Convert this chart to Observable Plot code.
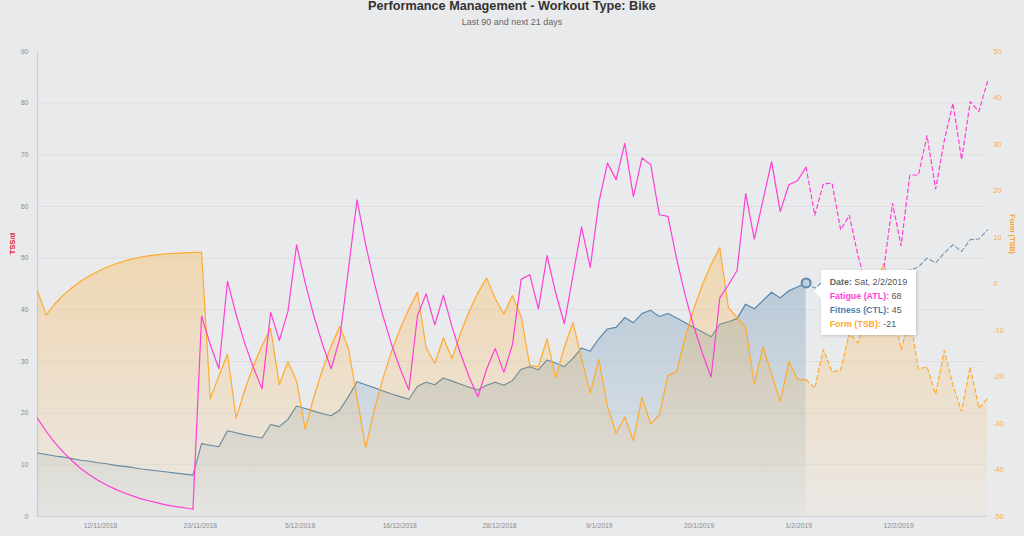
<!DOCTYPE html>
<html>
<head>
<meta charset="utf-8">
<script src="https://cdn.jsdelivr.net/npm/d3@7"></script>
<script src="https://cdn.jsdelivr.net/npm/@observablehq/plot@0.6"></script>
<style>
  html, body { margin:0; padding:0; background:#e9eaec; width:1024px; height:536px; overflow:hidden;
    font-family:"Liberation Sans", Arial, Helvetica, sans-serif; }
  #wrap { position:relative; width:1024px; height:536px; }
  #head { position:relative; width:1024px; height:30px; }
  #title { position:absolute; top:0; left:0; width:1024px; text-align:center; font-weight:bold;
    font-size:12.7px; line-height:13px; color:#333; }
  #subtitle { position:absolute; top:17.4px; left:0; width:1024px; text-align:center;
    font-size:9px; line-height:10px; color:#666; }
  #chart svg { display:block; }
  #tip { position:absolute; background:#fff; box-shadow:1px 1px 3px rgba(0,0,0,0.18);
    font-size:8.9px; line-height:14px; color:#555; padding:5px 9px 4px 9px; white-space:nowrap; }
  #tip b { font-weight:bold; }
  #tip .arrow { position:absolute; left:-7px; top:14px; width:0; height:0;
    border-top:7px solid transparent; border-bottom:7px solid transparent; border-right:7px solid #fff; }
</style>
</head>
<body>
<div id="wrap">
  <div id="head">
    <div id="title">Performance Management - Workout Type: Bike</div>
    <div id="subtitle">Last 90 and next 21 days</div>
  </div>
  <div id="chart"></div>
</div>
<script>
// ---- data ----
const startDate = "2018-11-05";
const todayIndex = 89;

const atl = [19.0,16.5,14.3,12.4,10.8,9.3,8.1,7.0,6.1,5.3,
  4.6,4.0,3.4,3.0,2.6,2.2,1.9,1.7,1.4,38.8,
  33.3,28.6,45.5,39.1,33.5,28.8,24.7,39.5,34.1,39.7,
  52.6,45.2,38.8,33.3,28.6,34.4,47.8,61.3,52.6,45.2,
  38.8,33.3,28.6,24.5,38.9,43.1,37.1,42.8,36.7,31.4,
  26.9,23.2,28.5,32.5,27.9,33.3,45.9,46.8,40.2,50.5,
  43.3,37.3,46.6,56.0,48.2,60.8,68.4,65.2,72.2,61.9,
  69.4,68.1,58.4,58.1,49.9,42.8,36.7,31.5,27.0,42.3,
  44.8,47.6,62.5,53.7,61.2,68.7,59.0,64.2,65.0,67.6,
  58.3,64.4,64.5,55.5,58.3,50.5,44.5,39.5,48.0,60.6,
  52.4,66.1,66.1,73.7,63.4,72.8,80.0,69.1,80.3,78.4,
  84.2];

const ctl = [12.3,12.0,11.7,11.5,11.2,10.9,10.7,10.4,10.2,9.9,
  9.7,9.5,9.2,9.0,8.8,8.6,8.4,8.2,8.0,14.1,
  13.8,13.5,16.6,16.2,15.8,15.5,15.2,17.8,17.4,18.8,
  21.4,20.9,20.4,19.9,19.5,20.6,23.2,26.1,25.5,24.9,
  24.3,23.7,23.2,22.7,25.2,26.0,25.5,26.8,26.2,25.6,
  25.0,24.5,25.4,26.0,25.4,26.3,28.5,29.0,28.4,30.3,
  29.7,29.0,30.6,32.6,32.0,34.4,36.3,36.6,38.5,37.5,
  39.3,39.9,38.7,39.3,38.4,37.5,36.6,35.7,34.8,37.2,
  37.7,38.3,41.1,40.2,41.8,43.4,42.3,43.7,44.4,45.2,
  44.2,45.5,46.0,44.9,45.6,44.6,43.7,42.9,44.2,46.4,
  45.4,47.7,48.3,50.0,49.1,51.0,52.6,51.3,53.6,53.7,
  55.5];

const tsb = [-1.5,-6.7,-4.3,-2.4,-0.8,0.6,1.7,2.7,3.6,4.3,
  4.9,5.4,5.8,6.1,6.3,6.5,6.6,6.7,6.8,6.8,
  -24.7,-19.8,-15.1,-28.9,-22.8,-17.6,-13.3,-9.6,-21.7,-16.7,
  -20.9,-31.2,-24.3,-18.4,-13.4,-9.1,-13.8,-24.5,-35.2,-27.1,
  -20.3,-14.5,-9.6,-5.4,-1.8,-13.7,-17.1,-11.6,-16.0,-10.5,
  -5.8,-1.9,1.3,-3.1,-6.5,-2.5,-7.0,-17.5,-17.8,-11.8,
  -20.2,-13.6,-8.3,-16.0,-23.4,-16.2,-26.4,-32.1,-28.6,-33.7,
  -24.4,-30.1,-28.2,-19.7,-18.8,-11.5,-5.3,-0.1,4.2,7.8,
  -5.1,-7.2,-9.3,-21.5,-13.5,-19.3,-25.3,-16.7,-20.5,-20.6,
  -22.4,-14.1,-18.9,-18.5,-10.6,-12.7,-5.9,-0.8,4.5,-3.8,
  -14.2,-7.0,-18.3,-17.8,-23.7,-14.3,-21.8,-27.4,-17.8,-26.7,
  -24.7];

const leftTicks = [0,10,20,30,40,50,60,70,80,90];
const rightTicks = [-50,-40,-30,-20,-10,0,10,20,30,40,50];
const xTickDates = ["2018-11-12T07:12Z","2018-11-23T20:24Z","2018-12-05T09:36Z","2018-12-16T22:48Z",
  "2018-12-28T12:00Z","2019-01-09T01:12Z","2019-01-20T14:24Z","2019-02-01T03:36Z","2019-02-12T16:48Z"];
const xTickLabels = ["12/11/2018","23/11/2018","5/12/2018","16/12/2018","28/12/2018",
  "9/1/2019","20/1/2019","1/2/2019","12/2/2019"];

// ---- build ----
const leftMax = 90, rightMin = -50, rightMax = 50;
const toLeft = v => (v - rightMin) / (rightMax - rightMin) * leftMax;   // right-axis units -> left-axis units
const fromLeft = v => Math.round(v / leftMax * (rightMax - rightMin) + rightMin);

const start = new Date(startDate + "T00:00:00Z");
const rows = atl.map((a, i) => ({ i, date: d3.utcDay.offset(start, i), atl: a, ctl: ctl[i], tsb: tsb[i], tsbL: toLeft(tsb[i]) }));
const past = rows.filter(d => d.i <= todayIndex);
const future = rows.filter(d => d.i >= todayIndex);
const today = rows[todayIndex];

const xTicks = xTickDates.map(s => new Date(s));
const xLabelMap = new Map(xTicks.map((d, i) => [+d, xTickLabels[i]]));

const C_ATL = "#ff3fd4", C_CTL = "#4b7fa7", C_TSB = "#ffab2e";

const defs = () => {
  const ns = "http://www.w3.org/2000/svg";
  const g = document.createElementNS(ns, "defs");
  g.innerHTML = `
    <linearGradient id="gCTL" x1="0" y1="0" x2="0" y2="1">
      <stop offset="0" stop-color="rgb(74,127,168)" stop-opacity="0.30"/>
      <stop offset="1" stop-color="rgb(74,127,168)" stop-opacity="0.03"/>
    </linearGradient>
    <linearGradient id="gTSB" x1="0" y1="0" x2="0" y2="1">
      <stop offset="0" stop-color="rgb(255,170,40)" stop-opacity="0.30"/>
      <stop offset="1" stop-color="rgb(255,170,40)" stop-opacity="0.04"/>
    </linearGradient>`;
  return g;
};

const chart = Plot.plot({
  width: 1024,
  height: 506,
  marginTop: 21,
  marginBottom: 20,
  marginLeft: 37,
  marginRight: 37,
  style: { background: "transparent", fontFamily: "'Liberation Sans', Arial, sans-serif", color: "#8c8c8c" },
  x: { type: "utc", domain: [rows[0].date, rows[rows.length - 1].date], label: null },
  y: { domain: [0, leftMax], label: null },
  marks: [
    defs,
    Plot.ruleY(leftTicks.filter(t => t > 0 && t < leftMax), { stroke: "#dedfe2", strokeWidth: 1 }),
    Plot.ruleY([0], { stroke: "#cdced1", strokeWidth: 1 }),
    Plot.ruleX([rows[0].date], { y1: 0, y2: leftMax, stroke: "#cdced1", strokeWidth: 1.2 }),
    // Fitness (CTL)
    Plot.areaY(past, { x: "date", y1: 0, y2: "ctl", fill: "url(#gCTL)" }),
    Plot.lineY(past, { x: "date", y: "ctl", stroke: "#5686ac", strokeWidth: 1.1 }),
    Plot.lineY(future, { x: "date", y: "ctl", stroke: "#6f95b5", strokeWidth: 1.1, strokeDasharray: "4,3" }),
    // Form (TSB)
    Plot.areaY(rows, { x: "date", y1: 0, y2: "tsbL", fill: "url(#gTSB)" }),
    Plot.lineY(past, { x: "date", y: "tsbL", stroke: C_TSB, strokeWidth: 1.2 }),
    Plot.lineY(future, { x: "date", y: "tsbL", stroke: C_TSB, strokeWidth: 1.2, strokeDasharray: "4,3" }),
    // Fatigue (ATL)
    Plot.lineY(past, { x: "date", y: "atl", stroke: C_ATL, strokeWidth: 1.2 }),
    Plot.lineY(future, { x: "date", y: "atl", stroke: C_ATL, strokeWidth: 1.2, strokeDasharray: "4,3" }),
    // hover marker
    Plot.dot([today], { x: "date", y: "ctl", r: 4.5, fill: "#c3d0db", stroke: "#5f88aa", strokeWidth: 2 }),
    // axes
    Plot.axisY({ ticks: leftTicks, anchor: "left", tickSize: 0, tickPadding: 9, fontSize: 7, color: "#8c8c8c", label: null }),
    Plot.axisY({ ticks: rightTicks.map(toLeft), anchor: "right", tickSize: 0, tickPadding: 6, fontSize: 7,
      color: "#f6ad3c", tickFormat: d => fromLeft(d), label: null }),
    Plot.axisX({ ticks: xTicks, anchor: "bottom", tickSize: 0, tickPadding: 7, fontSize: 6.8, color: "#8c8c8c",
      tickFormat: d => xLabelMap.get(+d), label: null }),
    Plot.text(["TSS/d"], { text: d => d, frameAnchor: "left", dx: -25, dy: -29.5, rotate: -90,
      fill: "#e3262b", fontWeight: "bold", fontSize: 7.7 }),
    Plot.text(["Form (TSB)"], { text: d => d, frameAnchor: "right", dx: 24.5, dy: -30, rotate: 90,
      fill: "#f5a52c", fontWeight: "bold", fontSize: 7.3 })
  ]
});
document.getElementById("chart").appendChild(chart);

// ---- tooltip ----
const svgTop = 30;
const px = chart.scale("x").apply(today.date);
const py = chart.scale("y").apply(today.ctl) + svgTop;
const fmt = d3.utcFormat("%a, %-d/%-m/%Y");
const tip = document.createElement("div");
tip.id = "tip";
tip.innerHTML = `<div class="arrow"></div>
  <div><b style="color:#666">Date:</b> ${fmt(today.date)}</div>
  <div><b style="color:${C_ATL}">Fatigue (ATL):</b> ${Math.round(today.atl)}</div>
  <div><b style="color:${C_CTL}">Fitness (CTL):</b> ${Math.round(today.ctl)}</div>
  <div><b style="color:${C_TSB}">Form (TSB):</b> ${Math.round(today.tsb)}</div>`;
tip.style.left = (px + 15) + "px";
tip.style.top = (py - 12) + "px";
document.getElementById("wrap").appendChild(tip);
</script>
</body>
</html>
